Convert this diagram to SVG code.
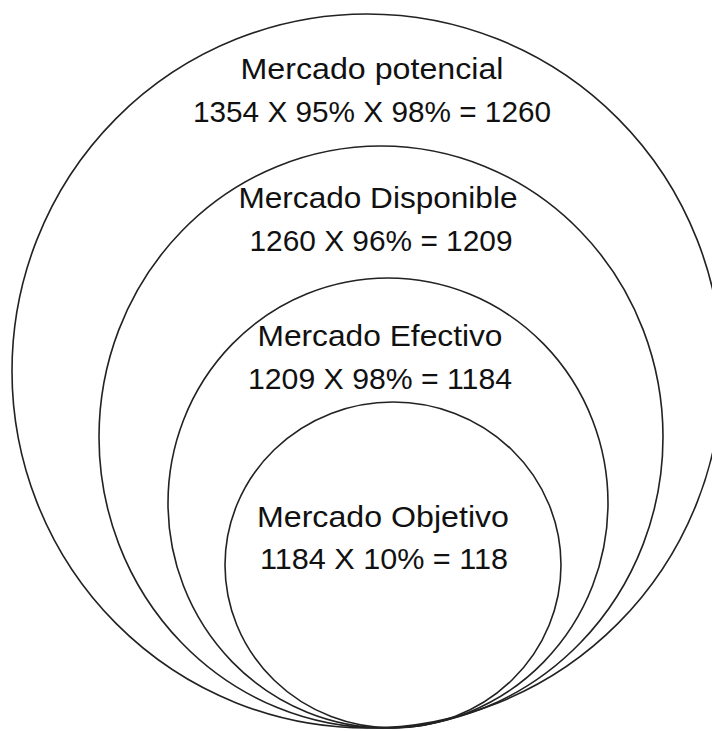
<svg xmlns="http://www.w3.org/2000/svg" width="712" height="731" viewBox="0 0 712 731">
  <style>
    .ring { fill: none; stroke: #222; stroke-width: 1.6; }
    .lbl { font-family: "Liberation Sans", Arial, sans-serif; font-size: 29px; fill: #111; text-anchor: middle; }
  </style>
  <rect width="712" height="731" fill="#fff"/>
  <g id="mercado-potencial">
    <ellipse class="ring" cx="367" cy="371" rx="355" ry="357"/>
    <text class="lbl" x="372" y="79" textLength="263" lengthAdjust="spacingAndGlyphs">Mercado potencial</text>
    <text class="lbl" x="372" y="122" textLength="358" lengthAdjust="spacingAndGlyphs">1354 X 95% X 98% = 1260</text>
  </g>
  <g id="mercado-disponible">
    <ellipse class="ring" cx="381" cy="437" rx="282" ry="291"/>
    <text class="lbl" x="378" y="208" textLength="279" lengthAdjust="spacingAndGlyphs">Mercado Disponible</text>
    <text class="lbl" x="381" y="251" textLength="263" lengthAdjust="spacingAndGlyphs">1260 X 96% = 1209</text>
  </g>
  <g id="mercado-efectivo">
    <ellipse class="ring" cx="388" cy="503" rx="220" ry="225"/>
    <text class="lbl" x="380" y="346" textLength="245" lengthAdjust="spacingAndGlyphs">Mercado Efectivo</text>
    <text class="lbl" x="380" y="389" textLength="264" lengthAdjust="spacingAndGlyphs">1209 X 98% = 1184</text>
  </g>
  <g id="mercado-objetivo">
    <ellipse class="ring" cx="393" cy="565" rx="168" ry="163"/>
    <text class="lbl" x="383" y="527" textLength="252" lengthAdjust="spacingAndGlyphs">Mercado Objetivo</text>
    <text class="lbl" x="384" y="569" textLength="248" lengthAdjust="spacingAndGlyphs">1184 X 10% = 118</text>
  </g>
  <g id="connectors"/>
</svg>
